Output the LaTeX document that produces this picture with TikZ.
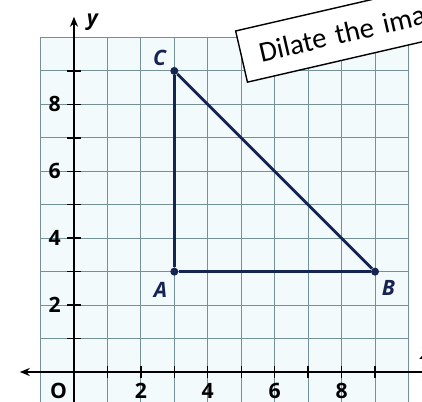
\documentclass[tikz,border=0pt]{standalone}
\usepackage{fontspec}
\setmainfont{Open Sans}
\newfontfamily\calloutfont{Carlito}
\usetikzlibrary{arrows.meta, positioning}
\definecolor{gridline}{RGB}{115,145,150}
\definecolor{paper}{RGB}{242,250,252}
\definecolor{navy}{RGB}{22,36,82}

\begin{document}
\begin{tikzpicture}[
    gridlines/.style={line width=0.8pt, gridline},
    axis/.style={line width=1.5pt, black},
    tick/.style={line width=1.2pt, black},
    num/.style={font=\fontsize{18}{20}\selectfont\bfseries, inner sep=0pt},
    ptlabel/.style={font=\fontsize{18}{20}\selectfont\bfseries\itshape, text=navy, inner sep=0pt},
    dot/.style={circle, fill=navy, inner sep=0pt, minimum size=0.24cm},
    side/.style={line width=2.4pt, navy},
    callout/.style={draw=black, line width=1.2pt, fill=white, rotate=13, anchor=south west,
        minimum height=1.57cm, text width=7cm, align=left, inner xsep=0.55cm,
        font=\calloutfont\fontsize{24.5}{28}\selectfont},
]
\useasboundingbox (-2.212,-0.897) rectangle (10.404,11.121);
\clip (-2.212,-0.897) rectangle (10.404,11.121);

\fill[paper] (-1,-1) rectangle (10,10);
\draw[gridlines] (-1,-1) grid (10,10);

\coordinate (xl) at (-1.62,0);
\coordinate (xr) at (10.7,0);
\coordinate (yb) at (0,-1);
\coordinate (yt) at (0,10.62);
\draw[axis, {Stealth[length=3mm,width=2.4mm]}-{Stealth[length=3mm,width=2.4mm]}] (xl) -- (xr);
\draw[axis, -{Stealth[length=3mm,width=2.4mm]}] (yb) -- (yt);

\foreach \k in {1,...,9} {
  \draw[tick] (\k,-0.18) -- (\k,0.18);
  \draw[tick] (-0.2,\k) -- (0.2,\k);
}

\node[num] (o) at (-0.46,-0.57) {O};
\foreach \k in {2,4,6,8} {
  \node[num] (x\k) at (\k,-0.57) {\k};
  \node[num] (y\k) at (-0.58,\k) {\k};
}
\node[num, font=\fontsize{18}{20}\selectfont\bfseries\itshape] (ylab) at (0.55,10.45) {y};
\node[num, font=\fontsize{18}{20}\selectfont\bfseries\itshape] (xlab) at (10.52,0.55) {x};

\node[dot] (A) at (3,3) {};
\node[dot] (B) at (9,3) {};
\node[dot] (C) at (3,9) {};

\draw[side] (A) -- (B);
\draw[side] (B) -- (C);
\draw[side] (C) -- (A);

\node[ptlabel] (la) at (2.59,2.44) {A};
\node[ptlabel] (lb) at (9.40,2.50) {B};
\node[ptlabel] (lc) at (2.56,9.40) {C};

\node[callout] (note) at (5.17,8.64) {Dilate the ima};

\end{tikzpicture}
\end{document}
